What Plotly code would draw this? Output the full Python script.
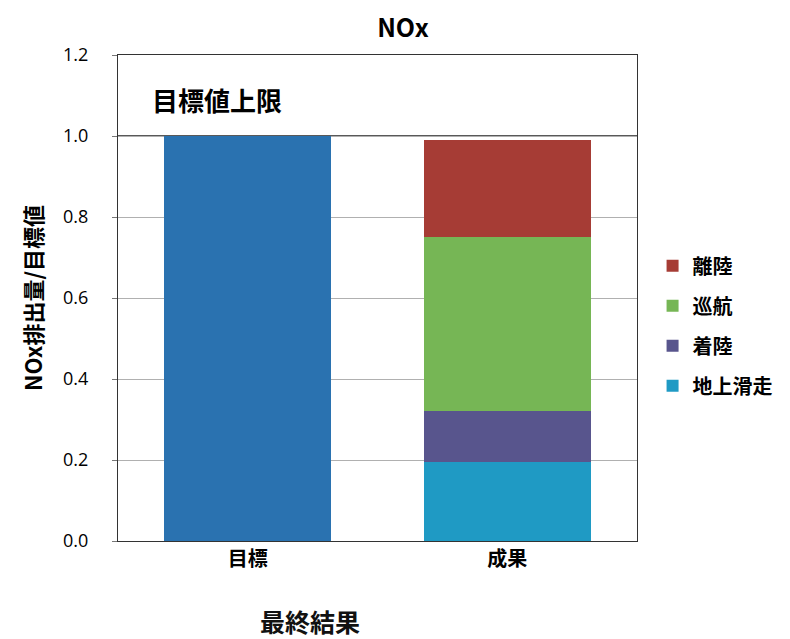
import plotly.graph_objects as go

# data
categories = ["目標", "成果"]
target_value = [1.0, None]
phases = ["地上滑走", "着陸", "巡航", "離陸"]
phase_values = {
    "地上滑走": [None, 0.195],
    "着陸": [None, 0.125],
    "巡航": [None, 0.43],
    "離陸": [None, 0.24],
}
phase_colors = {
    "地上滑走": "#1f9ac4",
    "着陸": "#58558d",
    "巡航": "#76b655",
    "離陸": "#a63c35",
}
legend_rank = {"離陸": 1, "巡航": 2, "着陸": 3, "地上滑走": 4}
target_limit = 1.0

FONT = "Noto Sans CJK JP"

fig = go.Figure()

fig.add_trace(go.Bar(
    x=categories, y=target_value, name="目標値",
    marker=dict(color="#2a72b0", line=dict(width=0)),
    showlegend=False,
))

for p in phases:
    fig.add_trace(go.Bar(
        x=categories, y=phase_values[p], name=p,
        legendgroup=p, legendrank=legend_rank[p],
        marker=dict(color=phase_colors[p], line=dict(width=0)),
    ))

# target ceiling line
fig.add_hline(y=target_limit, line=dict(color="#222222", width=1.5), layer="below")

fig.add_annotation(
    x=0.062, xref="paper", y=1.09, yref="y",
    text="<b>目標値上限</b>", showarrow=False, xanchor="left", yanchor="middle",
    font=dict(family=FONT, size=26, color="black"),
)
fig.add_annotation(
    x=0.37, xref="paper", y=-0.165, yref="paper",
    text="<b>最終結果</b>", showarrow=False, yanchor="middle",
    font=dict(family=FONT, size=25, color="#111111", weight=500),
)

fig.update_layout(
    width=782, height=631,
    barmode="stack",
    bargap=0.355,
    plot_bgcolor="white", paper_bgcolor="white",
    margin=dict(l=110, r=150, t=47, b=98),
    title=dict(text="<b>NOx</b>", x=0.505, xanchor="center",
               y=0.968, yanchor="middle",
               font=dict(family=FONT, size=25, color="black")),
    font=dict(family=FONT, color="black"),
    legend=dict(
        x=1.03, xanchor="left", y=0.443, yanchor="middle",
        traceorder="grouped", tracegroupgap=11,
        font=dict(family=FONT, size=20, color="black", weight="bold"),
        itemwidth=30,
    ),
)

fig.update_xaxes(
    showline=True, linecolor="#333333", linewidth=1, mirror=True,
    tickfont=dict(family=FONT, size=20, color="black", weight="bold"),
    ticks="",
)
fig.update_yaxes(
    range=[0, 1.2], dtick=0.2, tickformat=".1f",
    showgrid=True, gridcolor="#b0b0b0", gridwidth=1,
    showline=True, linecolor="#333333", linewidth=1, mirror=True,
    ticks="outside", ticklen=5, tickcolor="#777777",
    ticklabelstandoff=20,
    tickfont=dict(family="Open Sans", size=18, color="black"),
    title=dict(text="<b>NOx排出量/目標値</b>", standoff=14,
               font=dict(family=FONT, size=22, color="black")),
    zeroline=False,
)

fig.write_html("out.html")
